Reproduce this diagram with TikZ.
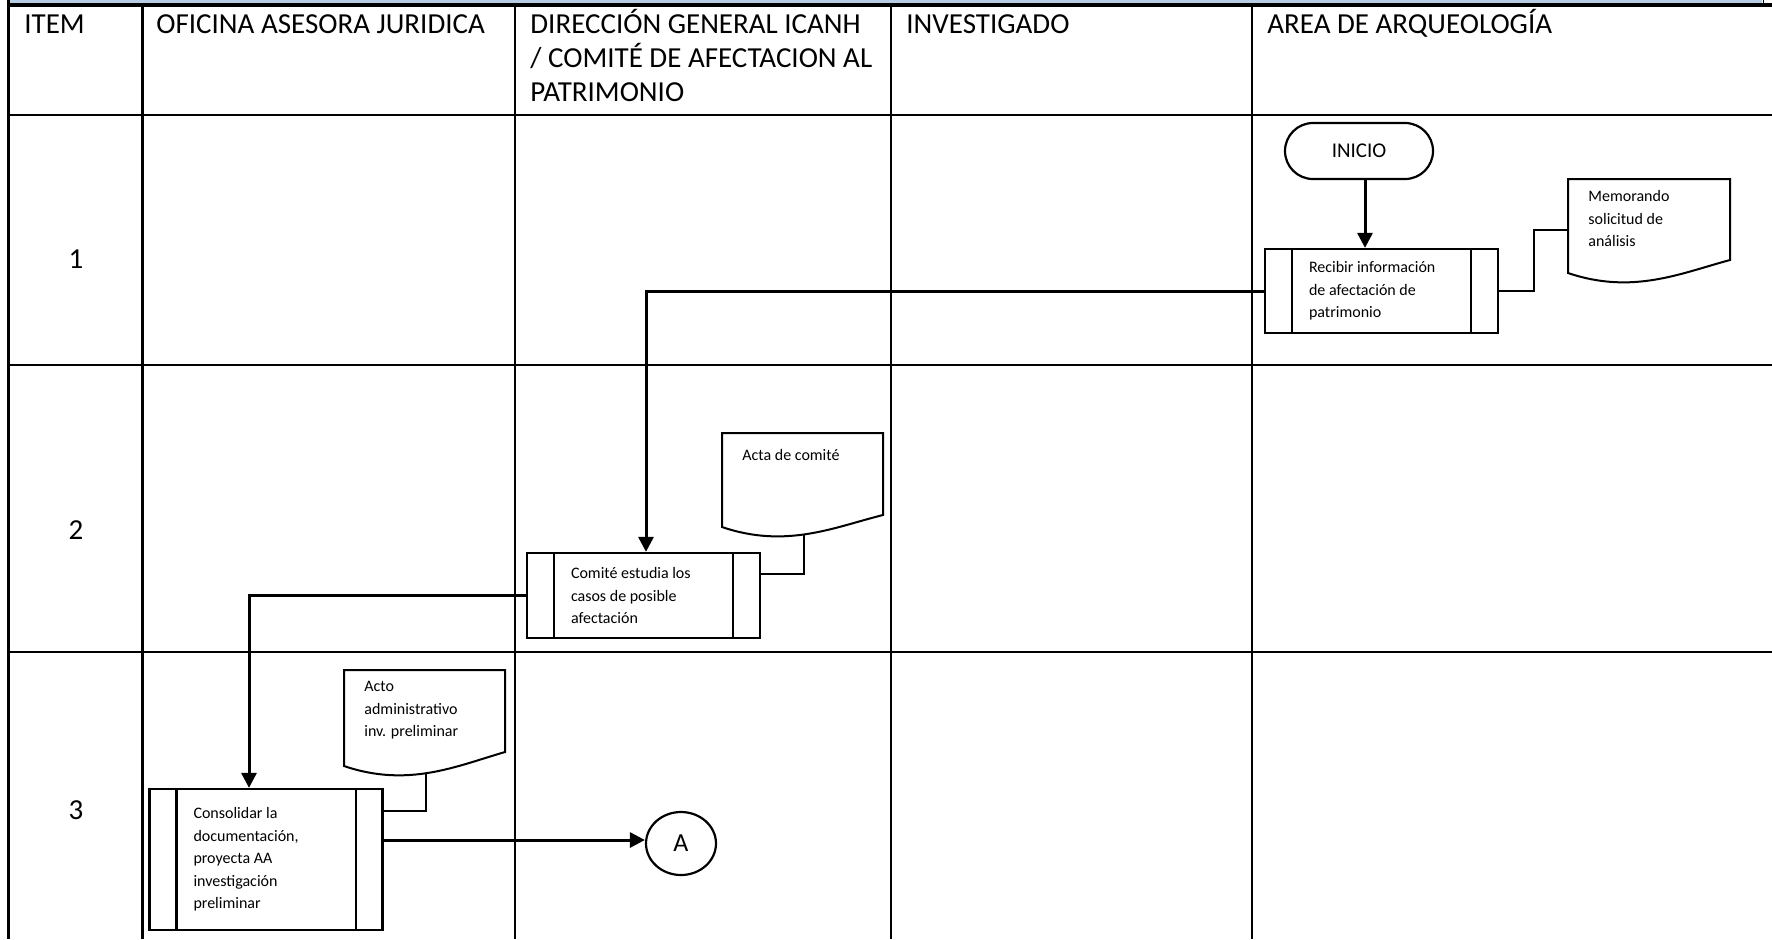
\documentclass[tikz,border=0pt]{standalone}
\usepackage{fontspec}
\setmainfont{Carlito}
\usetikzlibrary{arrows.meta,shapes.geometric}
\definecolor{barblue}{RGB}{184,204,228}
\begin{document}
\begin{tikzpicture}[x=0.5pt,y=-0.5pt,
  tbl/.style={line width=1.4pt},
  hdr/.style={anchor=north west,inner sep=0pt,align=left,font=\fontsize{14.5}{17}\selectfont,execute at begin node=\strut},
  num/.style={inner sep=0pt,font=\fontsize{14.5}{17}\selectfont},
  proc/.style={draw,line width=1.15pt,rectangle,inner xsep=22pt,inner ysep=0pt,text width=72.5pt,align=flush left,font=\fontsize{8}{11.25}\selectfont},
  doctext/.style={anchor=north west,inner sep=0pt,align=left,font=\fontsize{8}{11.25}\selectfont,execute at begin node=\strut},
  docline/.style={line width=1pt},
  conn/.style={line width=1pt},
  arr/.style={line width=1.5pt,-{Triangle[length=7.5pt,width=7.5pt]}},
  term/.style={draw,line width=1.1pt,rectangle,rounded corners=14pt,minimum width=74pt,minimum height=28pt,inner sep=0pt,font=\fontsize{10.5}{12}\selectfont},
  conector/.style={draw,line width=1.1pt,ellipse,minimum width=35pt,minimum height=31.5pt,inner sep=0pt,font=\fontsize{13}{15}\selectfont}
]
\useasboundingbox (0,0) rectangle (1772,939);
% top bar
\fill[barblue] (10,0) rectangle (1762,3.3);
\fill[black] (7,3.3) rectangle (1772,6.7);
\draw[line width=0.5pt] (1763,0) -- (1763,3.3);
% table
\draw[tbl] (8.5,0) -- (8.5,939);
\foreach \x in {142.5,515,891,1252} \draw[tbl] (\x,6.7) -- (\x,939);
\foreach \y in {115,365,652} \draw[tbl] (8.5,\y) -- (1772,\y);
% headers
\node[hdr] (hitem) at (24,9.2) {ITEM};
\node[hdr] (hofi) at (156,9.2) {OFICINA ASESORA JURIDICA};
\node[hdr] (hdir) at (530,9.2) {DIRECCIÓN GENERAL ICANH\\/ COMITÉ DE AFECTACION AL\\PATRIMONIO};
\node[hdr] (hinv) at (906,9.2) {INVESTIGADO};
\node[hdr] (harq) at (1267,9.2) {AREA DE ARQUEOLOGÍA};
% item numbers
\node[num] (n1) at (76,259) {1};
\node[num] (n2) at (76,530) {2};
\node[num] (n3) at (76,810) {3};
% terminator
\node[term] (inicio) at (1359,151) {INICIO};
% process boxes
\node[proc,minimum height=42pt] (box1) at (1381.5,291) {Recibir información\\de afectación de\\patrimonio};
\node[proc,minimum height=42.5pt] (box2) at (643.5,595.5) {Comité estudia los\\casos de posible\\afectación};
\node[proc,minimum height=70.5pt] (box3) at (266,859.5) {Consolidar la\\documentación,\\proyecta AA\\investigación\\preliminar};
\foreach \b in {box1,box2,box3}{
  \draw[line width=1.15pt] ([xshift=14pt]\b.north west) -- ([xshift=14pt]\b.south west);
  \draw[line width=1.15pt] ([xshift=-14pt]\b.north east) -- ([xshift=-14pt]\b.south east);
}
% documents
\draw[docline] (1568,273) -- (1568,179) -- (1730,179) -- (1730,260) .. controls (1681.4,273) and (1632.8,295) .. (1568,273) -- cycle;
\node[doctext] (memo) at (1588,190) {Memorando\\solicitud de\\análisis};
\coordinate (memoin) at (1568,230);
\draw[docline] (722,527) -- (722,433) -- (883,433) -- (883,515) .. controls (834.7,527) and (786.4,549) .. (722,527) -- cycle;
\node[doctext] (acta) at (742,444) {Acta de comité};
\coordinate (actaw) at (804,534);
\draw[docline] (344,766) -- (344,670) -- (505,670) -- (505,752) .. controls (456.7,766) and (408.4,788) .. (344,766) -- cycle;
\node[doctext] (acto) at (364,681) {Acto\\administrativo\\inv. preliminar};
\coordinate (actow) at (426,773);
% connector A
\node[conector] (A) at (681,843.5) {\raisebox{-2.5pt}{A}};
% connectors
\coordinate (s1) at ([xshift=3pt]inicio.south);
\draw[arr] (s1) -- (s1 |- box1.north);
\draw[arr] (box1.west) -| ([xshift=1.25pt]box2.north);
\draw[arr] (box2.west) -| ([xshift=-8.5pt]box3.north);
\draw[conn] (box1.east) -- ++(35,0) |- (memoin);
\draw[conn] ([yshift=10.75pt]box2.east) -| (actaw);
\draw[conn] ([yshift=24.25pt]box3.east) -| (actow);
\draw[arr] ([yshift=9.75pt]box3.east) -- ([yshift=1.75pt]A.west);
\end{tikzpicture}
\end{document}
